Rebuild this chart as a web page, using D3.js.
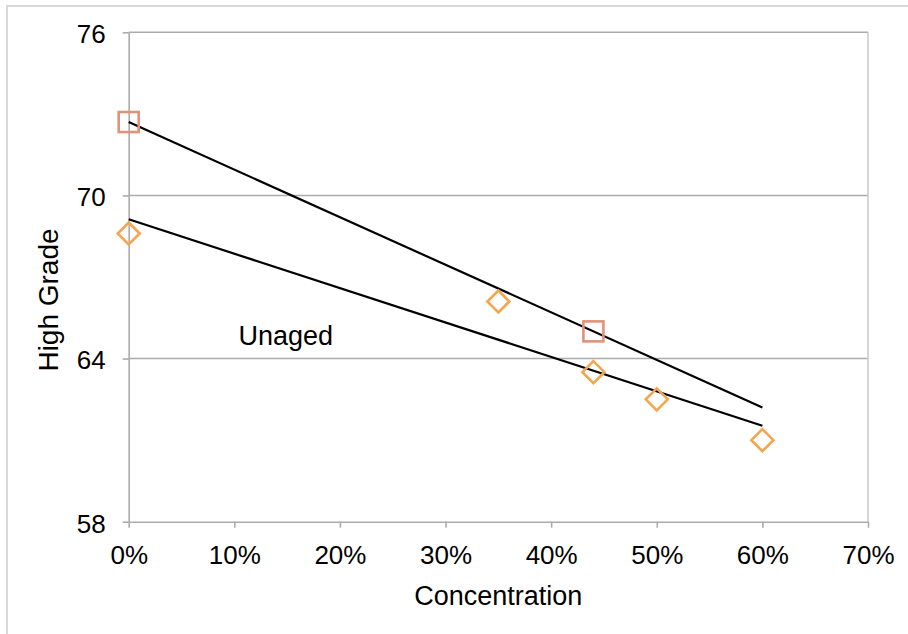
<!DOCTYPE html>
<html>
<head>
<meta charset="utf-8">
<script src="https://cdn.jsdelivr.net/npm/d3@7"></script>
<style>
  html, body { margin: 0; padding: 0; background: #fff; }
  svg { display: block; font-family: "Liberation Sans", Arial, Helvetica, sans-serif; }
</style>
</head>
<body>
<svg id="chart" width="908" height="634"></svg>
<script>
// Aged samples (squares)
const agedConc = [0, 0.44];
const agedGrade = [72.7, 65.0];
// Unaged samples (diamonds)
const unagedConc = [0, 0.35, 0.44, 0.50, 0.60];
const unagedGrade = [68.6, 66.1, 63.5, 62.5, 61.0];
// Trendlines span this concentration range
const trendExtent = [0, 0.60];
// Axis ticks
const xTicks = [0, 0.1, 0.2, 0.3, 0.4, 0.5, 0.6, 0.7];
const yTicks = [58, 64, 70, 76];
// In-chart annotation
const noteText = "Unaged";
const notePos = [0.104, 64.5];

const W = 908, H = 634;
const margin = { top: 32.3, right: 40, bottom: 112.3, left: 128.7 };

const svg = d3.select("#chart");

// outer chart frame
svg.append("rect")
  .attr("x", 7).attr("y", 6)
  .attr("width", 1000).attr("height", 1000)
  .attr("fill", "#fff")
  .attr("stroke", "#d9d9d9")
  .attr("stroke-width", 2);

const x = d3.scaleLinear().domain([0, 0.7]).range([margin.left, W - margin.right]);
const y = d3.scaleLinear().domain([58, 76]).range([H - margin.bottom, margin.top]);

const gridColor = "#ababab";

// horizontal gridlines
svg.append("g")
  .selectAll("line")
  .data(yTicks.filter(d => d !== 58))
  .join("line")
  .attr("x1", x(0)).attr("x2", x(0.7))
  .attr("y1", d => y(d)).attr("y2", d => y(d))
  .attr("stroke", gridColor)
  .attr("stroke-width", 1.6);

// right edge of the plot area
svg.append("line")
  .attr("x1", x(0.7)).attr("x2", x(0.7))
  .attr("y1", y(76)).attr("y2", y(58))
  .attr("stroke", "#cccccc")
  .attr("stroke-width", 1.6);

// y axis
const yAxis = svg.append("g")
  .attr("transform", `translate(${x(0)},0)`)
  .call(d3.axisLeft(y).tickValues(yTicks).tickSize(6).tickPadding(17).tickSizeOuter(0));
yAxis.select(".domain").attr("stroke", gridColor).attr("stroke-width", 1.6);
yAxis.selectAll(".tick line").attr("stroke", gridColor).attr("stroke-width", 1.6);
yAxis.selectAll(".tick text")
  .attr("dy", "0.4em")
  .attr("fill", "#000")
  .style("font-size", "26px")
  .style("font-family", "'Liberation Sans', Arial, sans-serif");

// x axis
const xAxis = svg.append("g")
  .attr("transform", `translate(0,${y(58)})`)
  .call(d3.axisBottom(x).tickValues(xTicks).tickFormat(d3.format(".0%")).tickSize(6).tickPadding(18).tickSizeOuter(0));
xAxis.select(".domain").attr("stroke", gridColor).attr("stroke-width", 1.6);
xAxis.selectAll(".tick line").attr("stroke", gridColor).attr("stroke-width", 1.6);
xAxis.selectAll(".tick text")
  .attr("dy", "0.71em")
  .attr("fill", "#000")
  .style("font-size", "26px")
  .style("font-family", "'Liberation Sans', Arial, sans-serif");

// least-squares linear fit
function fit(xs, ys) {
  const mx = d3.mean(xs), my = d3.mean(ys);
  let sxy = 0, sxx = 0;
  xs.forEach((v, i) => { sxy += (v - mx) * (ys[i] - my); sxx += (v - mx) * (v - mx); });
  const slope = sxy / sxx;
  const intercept = my - slope * mx;
  return v => intercept + slope * v;
}

const line = d3.line().x(d => x(d[0])).y(d => y(d[1]));

[[agedConc, agedGrade], [unagedConc, unagedGrade]].forEach(([xs, ys]) => {
  const f = fit(xs, ys);
  svg.append("path")
    .attr("d", line(trendExtent.map(v => [v, f(v)])))
    .attr("fill", "none")
    .attr("stroke", "#000")
    .attr("stroke-width", 2.2);
});

// unaged markers: diamonds
const diamondR = 11;
svg.append("g")
  .selectAll("path")
  .data(unagedConc.map((c, i) => [c, unagedGrade[i]]))
  .join("path")
  .attr("d", d => {
    const cx = x(d[0]), cy = y(d[1]);
    return `M${cx},${cy - diamondR}L${cx + diamondR},${cy}L${cx},${cy + diamondR}L${cx - diamondR},${cy}Z`;
  })
  .attr("fill", "none")
  .attr("stroke", "#f2a650")
  .attr("stroke-width", 2.6);

// aged markers: squares
const sq = 20;
svg.append("g")
  .selectAll("rect")
  .data(agedConc.map((c, i) => [c, agedGrade[i]]))
  .join("rect")
  .attr("x", d => x(d[0]) - sq / 2)
  .attr("y", d => y(d[1]) - sq / 2)
  .attr("width", sq).attr("height", sq)
  .attr("fill", "none")
  .attr("stroke", "#e0937a")
  .attr("stroke-width", 2.6);

// annotation
svg.append("text")
  .attr("x", x(notePos[0]))
  .attr("y", y(notePos[1]))
  .attr("font-size", 27)
  .attr("fill", "#000")
  .text(noteText);

// axis titles
svg.append("text")
  .attr("x", (x(0) + x(0.7)) / 2)
  .attr("y", 605)
  .attr("text-anchor", "middle")
  .attr("font-size", 27)
  .attr("fill", "#000")
  .text("Concentration");

svg.append("text")
  .attr("transform", "translate(58,300) rotate(-90)")
  .attr("text-anchor", "middle")
  .attr("font-size", 28)
  .attr("fill", "#000")
  .text("High Grade");
</script>
</body>
</html>
